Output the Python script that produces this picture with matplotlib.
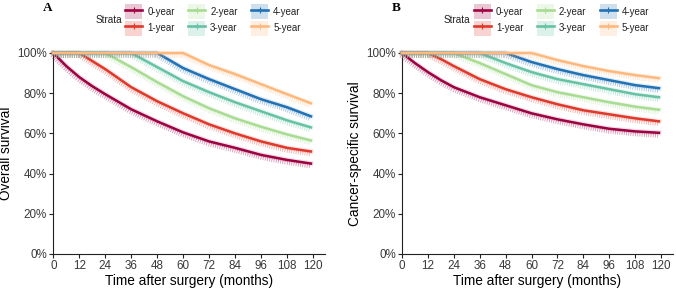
import matplotlib
matplotlib.use('Agg')
import matplotlib.pyplot as plt
from matplotlib import patheffects as pe
from matplotlib.patches import Patch
from matplotlib.lines import Line2D

plt.rcParams['font.family'] = ['Liberation Sans', 'DejaVu Sans']

months = [0, 6, 12, 18, 24, 36, 48, 60, 72, 84, 96, 108, 119]
strata = ['0-year', '1-year', '2-year', '3-year', '4-year', '5-year']
colors = ['#9E0142', '#E0392B', '#A9DC93', '#66C2A5', '#2171B5', '#FDB97D']

# Panel A: overall survival (%)
os_0y = [100, 93.5, 88, 83.5, 79.5, 72, 66, 60.5, 56, 52.8, 49.3, 46.8, 45]
os_1y = [100, 100, 100, 96, 92, 83, 76, 70, 64.5, 60, 56, 52.8, 51]
os_2y = [100, 100, 100, 100, 100, 93, 85.5, 78.5, 72.5, 67.5, 63.3, 59.5, 56.5]
os_3y = [100, 100, 100, 100, 100, 100, 93, 86, 80.5, 75.5, 71, 66.5, 63]
os_4y = [100, 100, 100, 100, 100, 100, 100, 92.5, 87, 82, 77, 73, 68.5]
os_5y = [100, 100, 100, 100, 100, 100, 100, 100, 94, 89.5, 84.5, 79.5, 75]

# Panel B: cancer-specific survival (%)
css_0y = [100, 95, 90.5, 86.5, 83, 78, 74, 70, 67, 64.5, 62.3, 61, 60.3]
css_1y = [100, 100, 100, 97, 93.5, 87, 82, 78, 74.5, 71.5, 69.5, 67.5, 66]
css_2y = [100, 100, 100, 100, 100, 95, 89.5, 84, 80.5, 78, 75.5, 73.3, 71.8]
css_3y = [100, 100, 100, 100, 100, 100, 95, 90.5, 87, 84.5, 82, 79.5, 78]
css_4y = [100, 100, 100, 100, 100, 100, 100, 95.5, 92, 89, 86.5, 84, 82.5]
css_5y = [100, 100, 100, 100, 100, 100, 100, 100, 96.5, 93.5, 91, 89, 87.5]

x_ticks = [0, 12, 24, 36, 48, 60, 72, 84, 96, 108, 120]
y_ticks = [0, 20, 40, 60, 80, 100]
y_ticklabels = ['0%', '20%', '40%', '60%', '80%', '100%']

panels = [
    ('A', 'Overall survival', [os_0y, os_1y, os_2y, os_3y, os_4y, os_5y]),
    ('B', 'Cancer-specific survival', [css_0y, css_1y, css_2y, css_3y, css_4y, css_5y]),
]

W, H = 676, 291
fig = plt.figure(figsize=(W / 100, H / 100), dpi=100)

ax_px = [(53.3, 325), (402, 673)]
top_px, bot_px = 53, 254

for (lab, ylab, series), (l, r) in zip(panels, ax_px):
    ax = fig.add_axes([l / W, 1 - bot_px / H, (r - l) / W, (bot_px - top_px) / H])
    for vals, c in zip(series, colors):
        ax.plot(months, vals, color=c, lw=1.8, clip_on=False, zorder=3,
                solid_joinstyle='round',
                path_effects=[
                    pe.Stroke(linewidth=3.6, foreground=c, alpha=0.13),
                    pe.TickedStroke(spacing=1.6, angle=-90, length=2.0,
                                    linewidth=0.6, foreground=c, alpha=0.4),
                    pe.Normal()])
    ax.set_xlim(0, 125.5)
    ax.set_ylim(0, 100)
    ax.set_xticks(x_ticks)
    ax.set_yticks(y_ticks)
    ax.set_yticklabels(y_ticklabels)
    for s in ['top', 'right']:
        ax.spines[s].set_visible(False)
    for s in ['left', 'bottom']:
        ax.spines[s].set_linewidth(0.8)
        ax.spines[s].set_color('#222222')
    ax.tick_params(axis='both', length=3, width=0.8, color='#222222',
                   labelsize=8.4, labelcolor='#3a3a3a', pad=1.5)
    ax.set_xlabel('Time after surgery (months)', fontsize=9.8, labelpad=1)
    ax.set_ylabel(ylab, fontsize=9.8, labelpad=3)
    ax.patch.set_alpha(0)

    # panel label
    fig.text((l - 6) / W, 1 - 8 / H, lab, fontsize=9.5, fontweight='bold',
             family='Liberation Serif', ha='center', va='center')
    # legend title
    fig.text((l + 42) / W, 1 - 20 / H, 'Strata', fontsize=7.2,
             color='#222222', ha='left', va='center')
    handles = [(Patch(facecolor=c, alpha=0.22, edgecolor='none'),
                Line2D([], [], color=c, lw=1.9, marker='+', ms=4.5,
                       markeredgewidth=0.8))
               for c in colors]
    leg = fig.legend(handles, strata, ncol=3, loc='center left',
                     bbox_to_anchor=((l + 72) / W, 1 - 20 / H),
                     frameon=False, fontsize=7.0, handlelength=1.7,
                     handleheight=2.0, handletextpad=0.55, columnspacing=1.4,
                     labelspacing=0.15, borderpad=0, borderaxespad=0)
    for t in leg.get_texts():
        t.set_color('#222222')

fig.savefig('out.png', dpi=100)
